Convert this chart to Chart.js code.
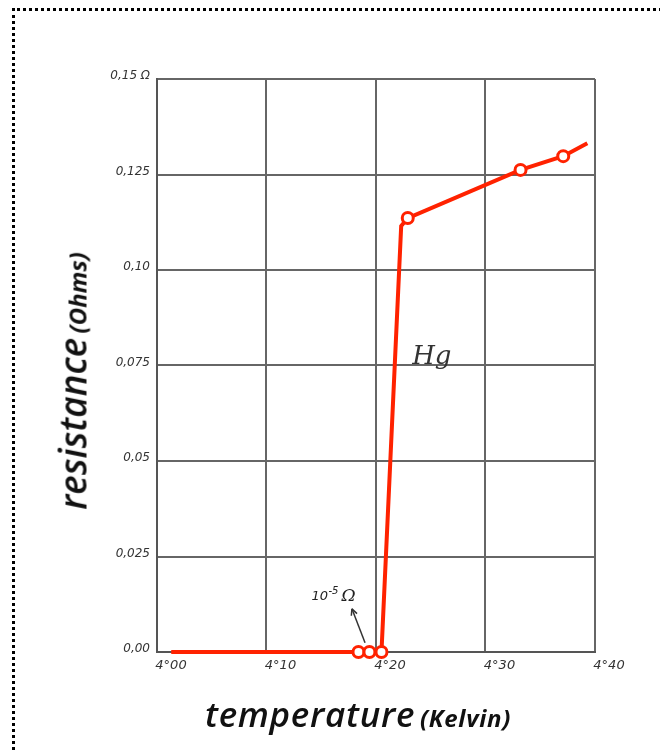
<!DOCTYPE html>
<html lang="en">
<head>
    <meta charset="UTF-8">
    <title>Hg resistance</title>
    <script src="https://cdn.jsdelivr.net/npm/chart.js"></script>
    <style>
        body { margin: 0; background: #fff; }
        #wrap { position: relative; width: 660px; height: 753px; overflow: hidden; }
        #frame { position: absolute; left: 12px; top: 8px; width: 700px; height: 800px;
                 border-left: 3px dotted #000; border-top: 3px dotted #000; }
        canvas { position: absolute; left: 0; top: 0; }
        .ytitle { position: absolute; left: 72px; top: 381px; transform: translate(-50%, -50%) rotate(-90deg);
                  white-space: nowrap; font-family: 'Open Sans', sans-serif; font-style: italic; color: #111; }
        .xtitle { position: absolute; left: 358px; top: 713px; transform: translate(-50%, -50%);
                  white-space: nowrap; font-family: 'Open Sans', sans-serif; font-style: italic; color: #111;
                  letter-spacing: 0.7px; }
        .ytitle .big { font-size: 37px; font-weight: 600; }
        .xtitle .big { font-size: 35px; font-weight: 600; }
        .small { font-size: 24px; font-weight: 700; }
    </style>
</head>
<body>
<div id="wrap">
    <div id="frame"></div>
    <canvas id="myChart" width="660" height="753"></canvas>
    <div class="ytitle"><span class="big">resistance</span> <span class="small">(Ohms)</span></div>
    <div class="xtitle"><span class="big">temperature</span> <span class="small">(Kelvin)</span></div>
</div>
<script>
    // temperature in K, resistance in ohms
    const temps  = [4.013, 4.184, 4.194, 4.205, 4.223, 4.229, 4.332, 4.371, 4.393];
    const resist = [0, 0, 0, 0, 0.1115, 0.1136, 0.1262, 0.1298, 0.1332];
    const measured = [false, true, true, true, false, true, true, true, false];

    const xTicks = ['4°00', '4°10', '4°20', '4°30', '4°40'];
    const yTicks = ['0,00', '0,025', '0,05', '0,075', '0,10', '0,125', '0,15 Ω'];

    const points = temps.map((t, i) => ({ x: t, y: resist[i] }));
    const red = '#ff2200';

    const notes = {
        id: 'notes',
        afterDatasetsDraw(chart) {
            const { ctx, scales: { x, y } } = chart;
            ctx.save();
            ctx.fillStyle = '#222';
            ctx.strokeStyle = '#333';
            // 10^-5 ohm label
            ctx.font = "italic 13px 'DejaVu Sans'";
            ctx.textAlign = 'left';
            ctx.textBaseline = 'alphabetic';
            const lx = x.getPixelForValue(4.141), ly = y.getPixelForValue(0.0137);
            ctx.fillText('10', lx, ly);
            ctx.font = "italic 10px 'DejaVu Sans'";
            ctx.fillText('-5', lx + 17, ly - 6);
            ctx.font = "italic 17px 'DejaVu Serif'";
            ctx.fillText('Ω', lx + 30, ly + 1);
            // arrow
            const ax0 = x.getPixelForValue(4.190), ay0 = y.getPixelForValue(0.0024);
            const ax1 = x.getPixelForValue(4.178), ay1 = y.getPixelForValue(0.0113);
            ctx.lineWidth = 1.5;
            ctx.beginPath();
            ctx.moveTo(ax0, ay0);
            ctx.lineTo(ax1, ay1);
            ctx.stroke();
            const ang = Math.atan2(ay1 - ay0, ax1 - ax0);
            ctx.beginPath();
            ctx.moveTo(ax1, ay1);
            ctx.lineTo(ax1 - 7 * Math.cos(ang - 0.45), ay1 - 7 * Math.sin(ang - 0.45));
            ctx.moveTo(ax1, ay1);
            ctx.lineTo(ax1 - 7 * Math.cos(ang + 0.45), ay1 - 7 * Math.sin(ang + 0.45));
            ctx.stroke();
            // Hg
            ctx.font = "italic 26px 'DejaVu Serif'";
            ctx.fillStyle = '#333';
            ctx.textAlign = 'center';
            ctx.fillText('Hg', x.getPixelForValue(4.251), y.getPixelForValue(0.0755));
            ctx.restore();
        }
    };

    new Chart(document.getElementById('myChart'), {
        type: 'scatter',
        data: {
            datasets: [{
                data: points,
                showLine: true,
                borderColor: red,
                borderWidth: 4,
                pointRadius: measured.map(m => m ? 5.5 : 0),
                pointBorderWidth: 3,
                pointBorderColor: red,
                pointBackgroundColor: '#fff',
                clip: false
            }]
        },
        options: {
            responsive: false,
            animation: false,
            layout: { padding: { left: 0, top: 79, right: 65, bottom: 0 } },
            plugins: { legend: { display: false }, tooltip: { enabled: false } },
            scales: {
                x: {
                    type: 'linear', min: 4.0, max: 4.4,
                    afterFit: s => { s.height = 101; },
                    afterBuildTicks: s => { s.ticks = xTicks.map((_, i) => ({ value: 4.0 + i * 0.1 })); },
                    grid: { color: '#666', lineWidth: 2, drawTicks: false },
                    border: { color: '#555', width: 2 },
                    ticks: {
                        padding: 6, labelOffset: 14, color: '#333',
                        font: { family: 'DejaVu Sans', style: 'italic', size: 13 },
                        callback: (v, i) => xTicks[i]
                    }
                },
                y: {
                    min: 0, max: 0.15,
                    afterFit: s => { s.width = 157; },
                    afterBuildTicks: s => { s.ticks = yTicks.map((_, i) => ({ value: i * 0.025 })); },
                    grid: { color: '#666', lineWidth: 2, drawTicks: false },
                    border: { color: '#555', width: 2 },
                    ticks: {
                        padding: 7, labelOffset: -3, color: '#333',
                        font: { family: 'DejaVu Sans', style: 'italic', size: 12 },
                        callback: (v, i) => yTicks[i]
                    }
                }
            }
        },
        plugins: [notes]
    });
</script>
</body>
</html>
